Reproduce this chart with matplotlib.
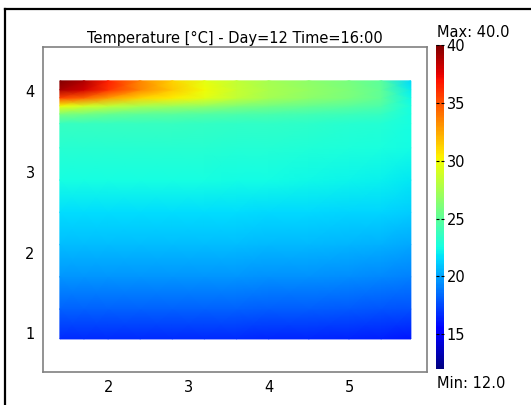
import numpy as np
import matplotlib
matplotlib.use("Agg")
import matplotlib.pyplot as plt
from matplotlib.lines import Line2D

# grid nodes of the temperature field
x_nodes = [1.40, 1.70, 2.00, 2.40, 2.80, 3.20, 3.60, 4.00, 4.50, 5.00, 5.40, 5.77]
y_nodes = [0.93, 1.30, 1.70, 2.10, 2.50, 2.90, 3.30, 3.60, 3.72, 3.82, 3.92, 4.02, 4.13]

# temperature [degC], one row per y node (bottom to top)
temp = [
    [16.6, 16.6, 16.6, 16.6, 16.6, 16.6, 16.6, 16.5, 16.5, 16.4, 16.3, 16.1],
    [18.2, 18.2, 18.2, 18.2, 18.2, 18.2, 18.2, 18.1, 18.1, 18.0, 17.9, 17.7],
    [19.6, 19.6, 19.6, 19.6, 19.6, 19.6, 19.6, 19.5, 19.5, 19.4, 19.3, 19.1],
    [20.7, 20.7, 20.7, 20.7, 20.7, 20.7, 20.7, 20.6, 20.6, 20.5, 20.4, 20.2],
    [21.6, 21.6, 21.6, 21.6, 21.6, 21.6, 21.6, 21.5, 21.5, 21.4, 21.3, 21.1],
    [22.5, 22.5, 22.5, 22.5, 22.5, 22.5, 22.4, 22.4, 22.3, 22.2, 22.1, 21.9],
    [23.1, 23.1, 23.1, 23.1, 23.1, 23.1, 23.0, 23.0, 22.9, 22.8, 22.7, 22.4],
    [23.7, 23.7, 23.7, 23.6, 23.6, 23.5, 23.4, 23.4, 23.3, 23.1, 23.0, 22.6],
    [26.0, 25.7, 25.3, 25.0, 24.8, 24.6, 24.4, 24.3, 24.1, 23.9, 23.6, 22.6],
    [30.0, 29.0, 28.3, 27.6, 27.2, 26.8, 26.2, 25.7, 25.3, 24.9, 24.4, 22.6],
    [35.5, 34.5, 32.8, 31.2, 30.4, 29.6, 28.3, 27.4, 26.6, 25.9, 25.1, 22.3],
    [39.0, 38.0, 36.0, 33.5, 31.5, 30.0, 28.6, 27.6, 26.8, 26.1, 25.1, 22.0],
    [40.0, 38.8, 36.5, 33.5, 31.2, 29.6, 28.3, 27.4, 26.6, 25.8, 24.8, 21.5],
]

t_min, t_max = 12.0, 40.0
cbar_ticks = [15, 20, 25, 30, 35, 40]

fig = plt.figure(figsize=(5.31, 4.05), dpi=100)
ax = fig.add_axes([0.081, 0.0815, 0.723, 0.8025])

X, Y = np.meshgrid(x_nodes, y_nodes)
mesh = ax.pcolormesh(X, Y, np.array(temp), shading="gouraud", cmap="jet",
                     vmin=t_min, vmax=t_max)

ax.set_xlim(1.19, 5.97)
ax.set_ylim(0.52, 4.55)
ax.set_xticks([2, 3, 4, 5])
ax.set_yticks([1, 2, 3, 4])
ax.tick_params(length=0, labelsize=10.5, pad=6)
for s in ax.spines.values():
    s.set_color("#808080")
    s.set_linewidth(1.2)
ax.set_title("Temperature [°C] - Day=12 Time=16:00", fontsize=10.5, pad=3)

cax = fig.add_axes([0.821, 0.089, 0.015, 0.800])
cb = fig.colorbar(mesh, cax=cax, ticks=cbar_ticks)
cb.outline.set_visible(False)
cax.tick_params(direction="in", length=2, width=0.8, color="k",
                left=True, right=True, labelsize=10.5, pad=2)

fig.text(0.823, 0.920, "Max: %.1f" % t_max, fontsize=10.5, va="center")
fig.text(0.823, 0.054, "Min: %.1f" % t_min, fontsize=10.5, va="center")

# black frame lines on top and left
fig.add_artist(Line2D([0.0095, 0.0095], [0.0, 0.978], color="k", lw=1.6))
fig.add_artist(Line2D([0.0095, 1.0], [0.978, 0.978], color="k", lw=1.6))

fig.savefig("out.png", dpi=100)
